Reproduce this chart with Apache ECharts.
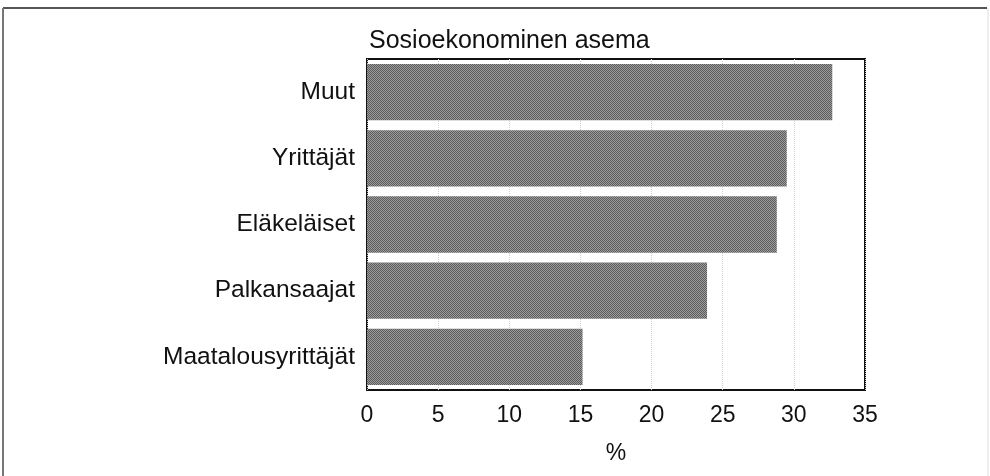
<!DOCTYPE html>
<html>
<head>
<meta charset="utf-8">
<script src="https://cdn.jsdelivr.net/npm/echarts@6/dist/echarts.min.js"></script>
<style>html,body{margin:0;padding:0;background:#fff}#c{width:990px;height:476px}</style>
</head>
<body>
<div id="c"></div>
<script>
const categories = ['Muut', 'Yrittäjät', 'Eläkeläiset', 'Palkansaajat', 'Maatalousyrittäjät'];
const values = [32.7, 29.5, 28.8, 23.9, 15.15];
const titleText = 'Sosioekonominen asema';
const axisName = '%';

const pc = document.createElement('canvas');
pc.width = 2; pc.height = 2;
const g = pc.getContext('2d');
g.fillStyle = '#9c9c9c'; g.fillRect(0, 0, 2, 2);
g.fillStyle = '#5c5c5c'; g.fillRect(0, 0, 1, 1); g.fillRect(1, 1, 1, 1);

const chart = echarts.init(document.getElementById('c'), null, {renderer: 'canvas'});
const font = 'Liberation Sans, Arial, Helvetica, sans-serif';
chart.setOption({
  animation: false,
  backgroundColor: '#fff',
  title: {
    text: titleText, left: 369, top: 29, padding: 0,
    textStyle: {fontFamily: font, fontSize: 25, fontWeight: 'normal', color: '#111'}
  },
  grid: {
    left: 367, right: 125, top: 59, bottom: 86,
    show: true, borderColor: '#111', borderWidth: 2, backgroundColor: 'transparent'
  },
  xAxis: {
    type: 'value', min: 0, max: 35, interval: 5,
    name: axisName, nameLocation: 'middle', nameGap: 52,
    nameTextStyle: {fontFamily: font, fontSize: 23, color: '#111'},
    axisLine: {show: false}, axisTick: {show: false},
    axisLabel: {fontFamily: font, fontSize: 23, color: '#111', margin: 14},
    splitLine: {show: true, lineStyle: {type: 'dotted', color: '#cfcfcf', width: 1}}
  },
  yAxis: {
    type: 'category', data: categories, inverse: true,
    axisLine: {show: false}, axisTick: {show: false},
    axisLabel: {fontFamily: font, fontSize: 24.5, color: '#111', margin: 12}
  },
  series: [{
    type: 'bar', data: values, barCategoryGap: '15%',
    itemStyle: {color: {image: pc, repeat: 'repeat'}}
  }],
  graphic: [
    {type: 'line', shape: {x1: 3, y1: 8, x2: 987, y2: 8}, style: {stroke: '#555', lineWidth: 2}, silent: true},
    {type: 'line', shape: {x1: 3, y1: 8, x2: 3, y2: 476}, style: {stroke: '#777', lineWidth: 2}, silent: true},
    {type: 'line', shape: {x1: 988, y1: 8, x2: 988, y2: 476}, style: {stroke: '#ddd', lineWidth: 1}, silent: true}
  ]
});
</script>
</body>
</html>
